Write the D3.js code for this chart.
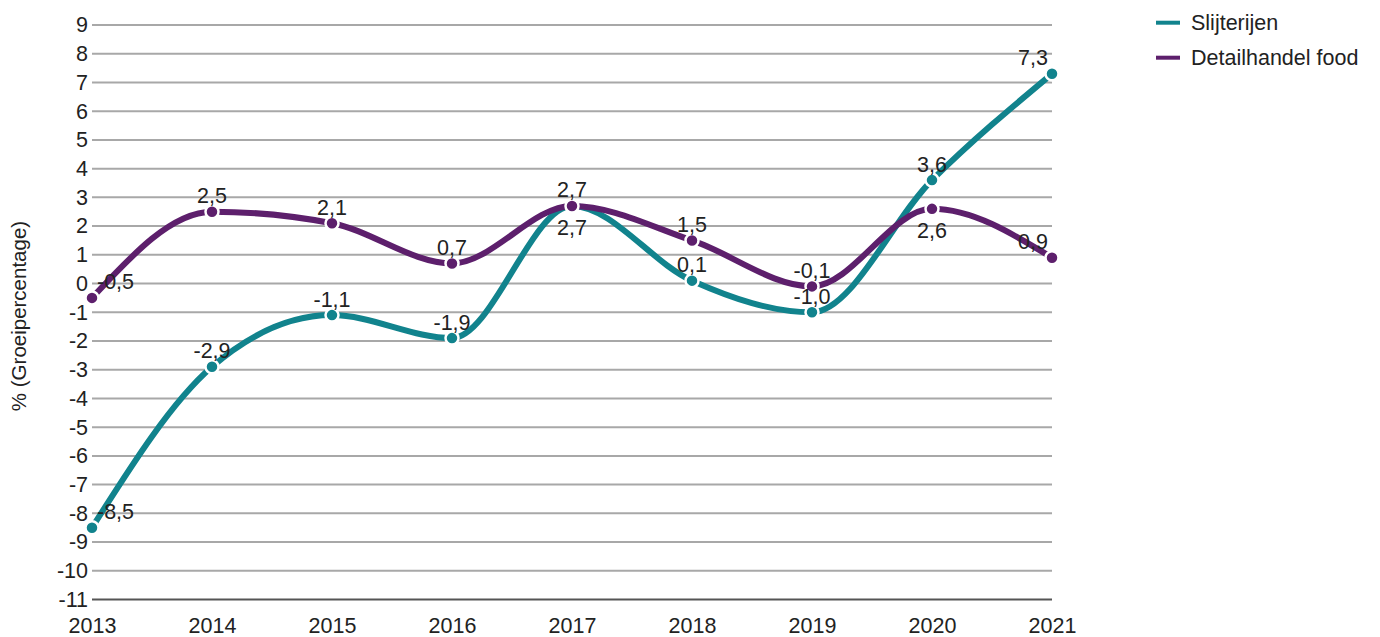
<!DOCTYPE html>
<html>
  <head>
    <meta charset="utf-8">
    <title>Groeipercentage</title>
    <script src="https://d3js.org/d3.v7.min.js"></script>
    <style>
      body { margin: 0; background: #fff; }
      text { font-family: "Liberation Sans", Arial, sans-serif; fill: #222; }
    </style>
  </head>
  <body>
    <script>
      var years = ["2013", "2014", "2015", "2016", "2017", "2018", "2019", "2020", "2021"];
      var slijterijen = [-8.5, -2.9, -1.1, -1.9, 2.7, 0.1, -1.0, 3.6, 7.3];
      var detailhandel = [-0.5, 2.5, 2.1, 0.7, 2.7, 1.5, -0.1, 2.6, 0.9];
      var yTicks = d3.range(-11, 10);

      var width = 1380;
      var height = 637;
      var plotLeft = 92, plotRight = 1052, plotTop = 25, plotBottom = 599.5;

      var svg = d3.select("body").append("svg").attr("width", width).attr("height", height);

      var xScale = d3.scalePoint().domain(years).range([plotLeft, plotRight]);
      var yScale = d3.scaleLinear().domain([-11, 9]).range([plotBottom, plotTop]);

      // grid
      svg.append("g").selectAll("line")
        .data(yTicks)
        .enter()
        .append("line")
        .attr("x1", plotLeft)
        .attr("x2", plotRight)
        .attr("y1", function(d) { return yScale(d); })
        .attr("y2", function(d) { return yScale(d); })
        .attr("stroke", function(d) { return d === -11 ? "#555" : "#a8a8a8"; })
        .attr("stroke-width", 2);

      // y axis labels (plain hyphen minus like the original)
      var axisY = d3.axisLeft(yScale).tickValues(yTicks).tickSize(0).tickPadding(3)
        .tickFormat(function(d) { return String(d); });
      var gy = svg.append("g").attr("transform", "translate(" + (plotLeft - 1) + ",0)").call(axisY);
      gy.select(".domain").remove();
      gy.selectAll("text").attr("font-size", 21.5).attr("font-family", null).style("fill", "#222");

      // x axis labels
      var axisX = d3.axisBottom(xScale).tickSize(0).tickPadding(0);
      var gx = svg.append("g").attr("transform", "translate(0," + 618 + ")").call(axisX);
      gx.select(".domain").remove();
      gx.selectAll("text").attr("font-size", 21.5).attr("font-family", null).attr("dy", "0.72em").style("fill", "#222");

      svg.append("text")
        .attr("transform", "translate(26,316) rotate(-90)")
        .attr("text-anchor", "middle")
        .attr("font-size", 20.5)
        .text("% (Groeipercentage)");

      var series = [
        { name: "Slijterijen", values: slijterijen, color: "#11838d", below: [4] },
        { name: "Detailhandel food", values: detailhandel, color: "#5d1f6c", below: [7] }
      ];

      var line = d3.line()
        .x(function(d, i) { return xScale(years[i]); })
        .y(function(d) { return yScale(d); })
        .curve(d3.curveMonotoneX);

      series.forEach(function(s) {
        svg.append("path")
          .attr("d", line(s.values))
          .attr("fill", "none")
          .attr("stroke", s.color)
          .attr("stroke-width", 6)
          .attr("stroke-linecap", "round");

        svg.append("g").selectAll("circle")
          .data(s.values)
          .enter()
          .append("circle")
          .attr("cx", function(d, i) { return xScale(years[i]); })
          .attr("cy", function(d) { return yScale(d); })
          .attr("r", 6.5)
          .attr("fill", s.color)
          .attr("stroke", "#fff")
          .attr("stroke-width", 2.5);
      });

      // data labels, kept inside the plot
      series.forEach(function(s) {
        svg.append("g").selectAll("text")
          .data(s.values)
          .enter()
          .append("text")
          .attr("font-size", 21.5)
          .attr("text-anchor", "middle")
          .attr("y", function(d, i) {
            return s.below.indexOf(i) >= 0 ? yScale(d) + 29 : yScale(d) - 8.5;
          })
          .text(function(d) { return d.toFixed(1).replace(".", ","); })
          .attr("x", function(d, i) {
            var w = this.getComputedTextLength();
            var x = xScale(years[i]);
            return Math.max(plotLeft + 5 + w / 2, Math.min(plotRight - 4 - w / 2, x));
          });
      });

      // legend
      var legend = svg.append("g").selectAll("g")
        .data(series)
        .enter()
        .append("g")
        .attr("transform", function(d, i) { return "translate(1156," + (22.7 + i * 35) + ")"; });
      legend.append("line")
        .attr("x1", 0).attr("x2", 24)
        .attr("stroke", function(d) { return d.color; })
        .attr("stroke-width", 4);
      legend.append("text")
        .attr("x", 35)
        .attr("dy", "0.35em")
        .attr("font-size", 21.5)
        .text(function(d) { return d.name; });
    </script>
  </body>
</html>
